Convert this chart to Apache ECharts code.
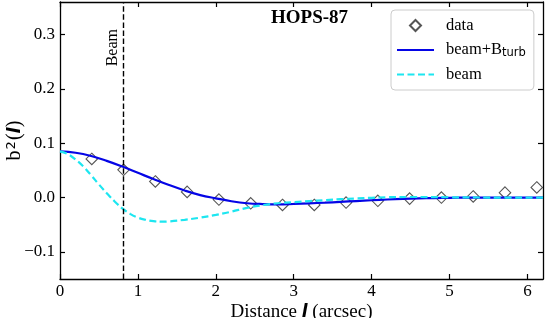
<!DOCTYPE html>
<html>
<head>
<meta charset="utf-8">
<script src="https://cdn.jsdelivr.net/npm/echarts@6/dist/echarts.min.js"></script>
<style>
html,body{margin:0;padding:0;background:#fff;}
#chart{width:546px;height:318px;}
</style>
</head>
<body>
<div id="chart"></div>
<script>
// ---- data ----
const dataX = [0.408, 0.816, 1.224, 1.632, 2.04, 2.448, 2.856, 3.264, 3.672, 4.08, 4.488, 4.896, 5.304, 5.712, 6.12];
const dataY = [0.071, 0.051, 0.0296, 0.0104, -0.0037, -0.0106, -0.0137, -0.0137, -0.0093, -0.006, -0.002, 0.0, 0.002, 0.009, 0.0185];

const turbX = [0.0, 0.2, 0.4, 0.6, 0.8, 1.0, 1.2, 1.4, 1.6, 1.8, 2.0, 2.2, 2.4, 2.6, 2.8, 3.0, 3.2, 3.4, 3.6, 3.8, 4.0, 4.2, 4.4, 4.6, 4.8, 5.0, 5.2, 5.6, 6.0, 6.2];
const turbY = [0.085, 0.0825, 0.0765, 0.0675, 0.057, 0.0455, 0.034, 0.023, 0.013, 0.0045, -0.0015, -0.0068, -0.0105, -0.012, -0.0125, -0.0117, -0.0106, -0.0095, -0.008, -0.0065, -0.005, -0.0036, -0.0025, -0.0016, -0.001, -0.0005, -0.0002, 0.0, 0.0, 0.0];

const beamX = [0.0, 0.1, 0.2, 0.3, 0.4, 0.5, 0.6, 0.7, 0.8, 0.9, 1.0, 1.1, 1.2, 1.3, 1.4, 1.6, 1.8, 2.0, 2.2, 2.4, 2.6, 2.8, 3.0, 3.2, 3.4, 3.6, 3.8, 4.0, 4.2, 4.5, 5.0, 5.5, 6.2];
const beamY = [0.085, 0.080, 0.070, 0.057, 0.041, 0.024, 0.008, -0.007, -0.020, -0.030, -0.037, -0.041, -0.0435, -0.0445, -0.044, -0.041, -0.037, -0.032, -0.026, -0.019, -0.014, -0.0105, -0.0085, -0.0065, -0.005, -0.003, -0.0017, -0.0005, 0.0005, 0.001, 0.0005, 0.0, 0.0];

const beamSize = 0.81;
const xTicks = [0, 1, 2, 3, 4, 5, 6];
const yTicks = [-0.1, 0.0, 0.1, 0.2, 0.3];
const xRange = [0, 6.2];
const yRange = [-0.15, 0.36];

const zip = (xs, ys) => xs.map((x, i) => [x, ys[i]]);
const SERIF = 'Liberation Serif, Times New Roman, serif';
const SANS = 'DejaVu Sans, sans-serif';
const BLUE = '#0505e6';
const CYAN = '#1de6f0';
const HIDE = {color: 'rgba(0,0,0,0)', borderColor: 'rgba(0,0,0,0)', borderWidth: 0};

const chart = echarts.init(document.getElementById('chart'), null, {renderer: 'canvas'});

const axisLine = {show: true, onZero: false, lineStyle: {color: '#000', width: 1.3}};
const tickStyle = {inside: true, length: 5, lineStyle: {color: '#000', width: 1.2}};

chart.setOption({
  animation: false,
  backgroundColor: '#fff',
  title: {
    text: 'HOPS-87', left: 271, top: 9, padding: 0,
    textStyle: {fontFamily: SERIF, fontWeight: 'bold', fontSize: 19, color: '#000'}
  },
  legend: {
    orient: 'vertical', left: 391, top: 10,
    padding: [7, 8, 7, 5], itemGap: 7, itemWidth: 37, itemHeight: 11,
    symbolKeepAspect: true,
    backgroundColor: 'rgba(255,255,255,0.8)', borderColor: '#ccc', borderWidth: 1, borderRadius: 4,
    data: [
      {name: 'data', icon: 'path://M0,0M37,11M18.5,0L24,5.5L18.5,11L13,5.5Z'},
      {name: 'beam+Bturb', itemStyle: HIDE},
      {name: 'beam', itemStyle: HIDE}
    ],
    formatter: function (name) {
      if (name === 'beam+Bturb') return '{t|beam+B}{s|turb}';
      return '{t|' + name + '}';
    },
    textStyle: {
      color: '#000', fontFamily: SERIF, fontSize: 16.5, padding: [0, 0, 0, 7],
      rich: {
        t: {fontFamily: SERIF, fontSize: 16.5, color: '#000', lineHeight: 18},
        s: {fontFamily: SANS, fontSize: 11.5, color: '#000', verticalAlign: 'bottom', lineHeight: 18, padding: [6, 0, 0, 0]}
      }
    }
  },
  grid: {left: 60, right: 3, top: 2, bottom: 39, containLabel: false, outerBoundsMode: 'none'},
  xAxis: [{
    type: 'value', min: xRange[0], max: xRange[1], position: 'bottom',
    axisLine: axisLine,
    axisTick: Object.assign({customValues: xTicks}, tickStyle),
    axisLabel: {customValues: xTicks, color: '#000', fontFamily: SERIF, fontSize: 17, margin: 4},
    splitLine: {show: false},
    name: '{n|Distance }{i|l}{n| (arcsec)}', nameLocation: 'middle', nameGap: 24, nameMoveOverlap: false,
    nameTextStyle: {
      color: '#000', fontFamily: SERIF, fontSize: 19,
      rich: {n: {fontFamily: SERIF, fontSize: 19, color: '#000'}, i: {fontFamily: SANS, fontStyle: 'italic', fontWeight: 'bold', fontSize: 17, color: '#000'}}
    }
  }, {
    type: 'value', min: xRange[0], max: xRange[1], position: 'top',
    axisLine: axisLine,
    axisTick: Object.assign({customValues: xTicks}, tickStyle),
    axisLabel: {show: false},
    splitLine: {show: false}
  }],
  yAxis: [{
    type: 'value', min: yRange[0], max: yRange[1], position: 'left',
    axisLine: axisLine,
    axisTick: Object.assign({customValues: yTicks}, tickStyle),
    axisLabel: {
      customValues: yTicks, color: '#000', fontFamily: SERIF, fontSize: 17, margin: 5,
      formatter: v => (v < 0 ? '\u2212' : '') + Math.abs(v).toFixed(1)
    },
    splitLine: {show: false},
    name: '{n|b}{p|2}{n|(}{i|l}{n|)}', nameLocation: 'middle', nameGap: 34, nameRotate: 90, nameMoveOverlap: false,
    nameTextStyle: {
      color: '#000', fontFamily: SERIF, fontSize: 20,
      rich: {
        n: {fontFamily: SERIF, fontSize: 20, color: '#000', lineHeight: 22},
        p: {fontFamily: SANS, fontSize: 13, color: '#000', verticalAlign: 'top', lineHeight: 13, padding: [1, 1, 0, 1]},
        i: {fontFamily: SANS, fontStyle: 'italic', fontWeight: 'bold', fontSize: 18, color: '#000', lineHeight: 22}
      }
    }
  }, {
    type: 'value', min: yRange[0], max: yRange[1], position: 'right',
    axisLine: axisLine,
    axisTick: Object.assign({customValues: yTicks}, tickStyle),
    axisLabel: {show: false},
    splitLine: {show: false}
  }],
  series: [{
    name: 'data', type: 'scatter', xAxisIndex: 0, yAxisIndex: 0,
    data: zip(dataX, dataY),
    symbol: 'diamond', symbolSize: 11.5,
    itemStyle: {color: 'rgba(255,255,255,0)', borderColor: '#2a2a2a', borderWidth: 1.1},
    z: 2
  }, {
    name: 'beam+Bturb', type: 'line', xAxisIndex: 0, yAxisIndex: 0,
    data: zip(turbX, turbY), smooth: 0.4, symbol: 'none',
    lineStyle: {color: BLUE, width: 2.2},
    itemStyle: {color: BLUE},
    z: 3
  }, {
    name: 'beam', type: 'line', xAxisIndex: 0, yAxisIndex: 0,
    data: zip(beamX, beamY), smooth: 0.4, symbol: 'none',
    lineStyle: {color: CYAN, width: 2.2, type: [7, 3.5]},
    itemStyle: {color: CYAN},
    z: 4,
    markLine: {
      silent: true, symbol: ['none', 'none'], animation: false,
      lineStyle: {color: '#000', width: 1.4, type: [5.5, 2.6]},
      label: {show: true, formatter: 'Beam', position: 'insideEndTop', distance: 2,
              fontFamily: SERIF, fontSize: 16, color: '#000', padding: [0, 25, 0, 0]},
      data: [{xAxis: beamSize}]
    }
  }]
});
</script>
</body>
</html>
